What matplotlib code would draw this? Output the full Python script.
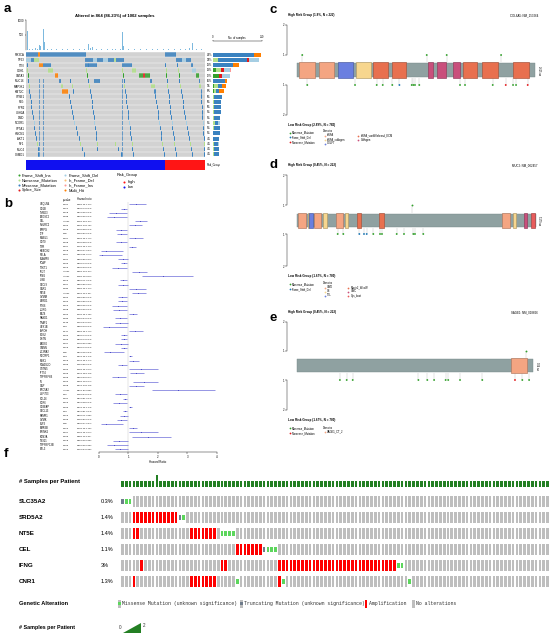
import matplotlib
matplotlib.use("Agg")
import matplotlib.pyplot as plt
import matplotlib.transforms as mtransforms
from matplotlib.patches import Polygon, Rectangle
import numpy as np

W, H = 550, 634
plt.rcParams['font.family'] = ['Liberation Sans', 'DejaVu Sans']
plt.rcParams['axes.linewidth'] = 0.3
plt.rcParams['axes.facecolor'] = 'none'

# =========================
# PANEL A DATA (oncoplot, columns = sample bins)
# =========================
N_BINS = 180
onco_title = "Altered in 864 (86.23%) of 1002 samples"
onco_genes = ["PIK3CA", "TP53", "TTN", "CDH1", "GATA3", "MUC16", "MAP3K1", "KMT2C",
              "SYNE1", "FLG", "RYR2", "USH2A", "DMD", "NCOR1", "SPTA1", "HMCN1",
              "AKT1", "NF1", "MUC4", "CSMD1"]
onco_pct = ["34%", "33%", "18%", "13%", "12%", "10%", "9%", "8%", "6%", "6%",
            "6%", "5%", "5%", "5%", "5%", "5%", "4%", "4%", "4%", "4%"]
vc_codes = ["FSI", "NON", "MIS", "SS", "FSD", "IFD", "IFI", "MH"]
vc_labels = ["Frame_Shift_Ins", "Nonsense_Mutation", "Missense_Mutation", "Splice_Site",
             "Frame_Shift_Del", "In_Frame_Del", "In_Frame_Ins", "Multi_Hit"]
vc_colors = ["#33A02C", "#B2DF8A", "#3A82C0", "#E31A1C", "#A6CEE3", "#FDBF6F", "#FB9A99", "#FF7F00"]

onco_blocks = {
    "PIK3CA": [(0, 12, "MIS"), (12, 2, "MH"), (14, 46, "MIS"), (140, 11, "MIS")],
    "TP53": [(0, 5, "FSD"), (5, 3, "MIS"), (8, 5, "NON"), (59, 8, "MIS"), (67, 4, "FSD"),
             (71, 6, "MIS"), (77, 5, "FSD"), (82, 6, "MIS"), (88, 3, "NON"), (91, 8, "MIS"),
             (151, 6, "MIS"), (157, 4, "FSD"), (161, 5, "MIS")],
    "TTN": [(13, 4, "MH"), (17, 8, "MIS"), (59, 12, "MIS"), (97, 10, "MIS"), (166, 2, "MIS")],
    "CDH1": [(22, 5, "NON"), (107, 4, "NON"), (167, 4, "FSD")],
    "GATA3": [(29, 3, "MH"), (114, 4, "FSI"), (118, 2, "SS"), (120, 5, "FSI"), (171, 3, "FSI")],
    "MUC16": [(33, 2, "MIS"), (68, 6, "MIS"), (125, 2, "MIS"), (174, 1, "MIS")],
    "MAP3K1": [(35, 2, "NON"), (126, 4, "NON"), (174, 2, "NON")],
    "KMT2C": [(36, 6, "MH"), (129, 2, "MIS"), (176, 1, "MIS")],
}
onco_scatter = {
    "TTN": [1, 62, 140, 152],
    "CDH1": [1, 60, 97, 141, 153],
    "GATA3": [2, 61, 98, 141, 154],
    "MUC16": [2, 44, 62, 72, 99, 142, 154],
    "MAP3K1": [3, 46, 63, 73, 99, 142, 155],
    "KMT2C": [3, 47, 64, 74, 100, 143, 156],
    "SYNE1": [4, 43, 65, 75, 101, 130, 144, 157, 176],
    "FLG": [5, 44, 66, 76, 101, 131, 144, 158, 176],
    "RYR2": [5, 45, 66, 77, 102, 132, 145, 158, 177],
    "USH2A": [6, 46, 67, 79, 103, 133, 145, 159, 177],
    "DMD": [7, 47, 68, 80, 103, 133, 146, 160, 177],
    "NCOR1": [8, 48, 68, 82, 104, 134, 147, 161, 178],
    "SPTA1": [8, 50, 69, 84, 105, 135, 147, 162, 178],
    "HMCN1": [9, 51, 70, 86, 105, 136, 148, 163, 178],
    "AKT1": [10, 53, 70, 88, 106, 136, 149, 164, 179],
    "NF1": [11, 54, 71, 90, 107, 137, 149, 165, 179],
    "MUC4": [12, 56, 71, 93, 107, 138, 150, 166, 179],
    "CSMD1": [12, 58, 72, 96, 108, 139, 151, 167, 179],
}
onco_scatter_type = {"CDH1": "NON", "GATA3": "FSI", "MAP3K1": "NON", "NCOR1": "FSD", "NF1": "NON"}
hyper_bins = [13, 17, 97]
hyper_genes = onco_genes[5:]

onco_counts = {
    "PIK3CA": {"MIS": 295, "MH": 46},
    "TP53": {"NON": 35, "MIS": 210, "SS": 15, "FSD": 71},
    "TTN": {"MIS": 140, "MH": 45},
    "CDH1": {"FSI": 20, "NON": 38, "SS": 22, "FSD": 38, "IFI": 12},
    "GATA3": {"FSI": 45, "SS": 18, "FSD": 57},
    "MUC16": {"MIS": 85, "MH": 15},
    "MAP3K1": {"FSI": 10, "NON": 25, "MIS": 30, "MH": 25},
    "KMT2C": {"FSI": 10, "NON": 10, "MIS": 25, "MH": 35},
    "SYNE1": {"MIS": 55, "NON": 6}, "FLG": {"MIS": 50, "NON": 8},
    "RYR2": {"MIS": 52, "NON": 4}, "USH2A": {"MIS": 50, "NON": 4},
    "DMD": {"MIS": 46, "NON": 6}, "NCOR1": {"MIS": 25, "NON": 12, "FSD": 13},
    "SPTA1": {"MIS": 45, "NON": 4}, "HMCN1": {"MIS": 44, "NON": 3},
    "AKT1": {"MIS": 45}, "NF1": {"MIS": 25, "NON": 10, "FSD": 9},
    "MUC4": {"MIS": 38, "NON": 4}, "CSMD1": {"MIS": 36, "NON": 5},
}

tmb_bins = [1, 3, 6, 9, 11, 13, 14, 17, 18, 21, 25, 30, 36, 41, 47, 53, 58, 62, 64, 66,
            70, 75, 81, 86, 90, 95, 97, 98, 103, 109, 115, 121, 127, 132, 138, 143, 149,
            155, 160, 164, 167, 171, 176]
tmb_vals = [640, 40, 25, 60, 35, 160, 120, 700, 260, 50, 30, 45, 20, 35, 25, 40, 30, 200,
            60, 90, 30, 25, 40, 20, 35, 50, 610, 120, 40, 25, 30, 45, 20, 35, 30, 25, 40,
            30, 45, 60, 220, 30, 25]

risk_groups = ["low", "high"]
risk_n = [780, 222]
risk_colors = {"low": "#1010F0", "high": "#FF1515"}

# =========================
# PANEL B DATA (forest plot)
# =========================
forest_genes = ["UBQLN4", "CD1B", "TMED3", "EXOSC2", "CEL", "NHLRC2", "SIRPG", "LTF", "MMEL1",
                "CD70", "TNR", "KRBOX2", "RELA", "SLAMF8", "TCAP", "TEKT1", "IFI27", "IFNG",
                "LY6E", "CXCL9", "CNR1", "NT5E", "GZMM", "SZRD1", "PTK6", "IL2RG", "SEZ6",
                "RASD1", "TRAF1", "UPK1B", "APOH", "EDN2", "DSTN", "FADS6", "GMNN",
                "IL13RA2", "NCCRP1", "MSX1", "PLA2G2D", "GSTM5", "IFT74", "TNFRSF6B", "F5",
                "CNP", "SRD5A2", "ZNF703", "CCL16", "CCR6", "CD3EAP", "CXCL13", "PAMR1",
                "GZMK", "ELF3", "SMR3B", "SPINK5", "SCN3A", "TBX21", "TNFRSF13B", "BCL3"]
forest_p = ["0.001", "0.014", "0.018", "0.038", "<0.001", "0.010", "0.019", "0.05", "0.007",
            "0.008", "0.007", "0.018", "0.007", "0.001", "0.003", "0.013", "<0.001", "<0.001",
            "0.013", "0.007", "0.030", "<0.001", "0.005", "0.002", "0.012", "0.008", "0.002",
            "0.033", "0.046", "0.06", "0.047", "0.002", "0.003", "0.007", "0.016",
            "0.05", "0.03", "0.016", "0.006", "0.002", "0.006", "0.009", "0.002",
            "0.008", "<0.001", "0.01", "0.001", "0.013", "0.023", "0.06", "0.013",
            "0.006", "0.05", "0.012", "0.007", "0.006", "0.018", "0.003", "0.013"]
forest_hr = [1.26, 0.84, 0.57, 0.50, 1.41, 1.22, 0.74, 0.75, 1.22, 0.74, 1.13, 0.24, 0.09,
             0.81, 0.84, 0.64, 1.35, 2.16, 0.82, 0.81, 1.26, 1.33, 0.78, 0.79, 0.65, 0.68,
             1.14, 0.71, 0.73, 0.35, 1.22, 0.84, 0.84, 0.74, 0.84, 0.37, 1.07, 1.17,
             0.79, 1.42, 1.27, 0.63, 1.52, 1.27, 2.67, 0.71, 0.87, 0.67, 1.07, 0.87, 0.84,
             0.75, 0.24, 1.14, 1.43, 1.66, 0.69, 0.51, 0.73]
forest_lo = [1.01, 0.74, 0.35, 0.26, 1.22, 1.03, 0.58, 0.60, 1.01, 0.58, 1.01, 0.07, 0.01,
             0.66, 0.74, 0.43, 1.12, 1.45, 0.71, 0.66, 1.01, 1.11, 0.65, 0.66, 0.45, 0.49,
             1.01, 0.54, 0.54, 0.13, 1.01, 0.74, 0.74, 0.56, 0.74, 0.16, 1.01, 1.01,
             0.66, 1.01, 1.05, 0.43, 1.15, 1.03, 1.80, 0.54, 0.81, 0.48, 1.01, 0.81, 0.71,
             0.60, 0.07, 1.01, 1.01, 1.11, 0.49, 0.26, 0.54]
forest_hi = [1.59, 0.94, 0.94, 0.94, 1.62, 1.45, 0.94, 0.94, 1.49, 0.94, 1.26, 0.81, 0.77,
             0.99, 0.94, 0.94, 1.62, 3.21, 0.94, 0.99, 1.59, 1.59, 0.94, 0.94, 0.94, 0.94,
             1.28, 0.94, 0.99, 0.94, 1.49, 0.94, 0.94, 0.98, 0.94, 0.84, 1.13, 1.37,
             0.94, 2.00, 1.53, 0.92, 2.01, 1.53, 3.95, 0.94, 0.94, 0.94, 1.13, 0.94, 0.98,
             0.94, 0.81, 1.28, 2.02, 2.45, 0.98, 0.98, 0.98]

# =========================
# PANELS C-E DATA (lollipops)
# =========================
mut_colors = {"MIS": "#33A02C", "FSD": "#1F78B4", "NON": "#E31A1C"}
mut_names = {"MIS": "Missense_Mutation", "FSD": "Frame_Shift_Del", "NON": "Nonsense_Mutation"}

c_gene = "COL6A5: NM_153264"
c_len = 2615
c_hi_title = "High Risk Group (1.8%, N = 222)"
c_lo_title = "Low Risk Group (2.89%, N = 780)"
c_dom_start = [29, 248, 457, 651, 841, 1043, 1444, 1536, 1712, 1822, 2030, 2370]
c_dom_end = [201, 409, 614, 815, 1005, 1199, 1499, 1635, 1792, 1975, 2212, 2552]
c_dom_type = ["vWFA", "vWFA", "COLFI", "vWFA_collagen", "vWFA_vonWillebrand_ECM",
              "vWFA_vonWillebrand_ECM", "Collagen", "Collagen", "Collagen",
              "vWFA_vonWillebrand_ECM", "vWFA_vonWillebrand_ECM", "vWFA_vonWillebrand_ECM"]
c_dom_colors = {"vWFA": "#F4A582", "vWFA_collagen": "#F7D68E", "COLFI": "#6A7FE0",
                "vWFA_vonWillebrand_ECM": "#E8704F", "Collagen": "#C94F7C"}
c_hi_pos = [61, 1427, 1646, 2243]
c_hi_cnt = [1, 1, 1, 1]
c_hi_type = ["MIS", "MIS", "MIS", "MIS"]
c_lo_pos = [116, 640, 878, 944, 1049, 1127, 1262, 1280, 1298, 1345, 1792, 1847, 2151, 2294,
            2374, 2407, 2535]
c_lo_cnt = [1] * 17
c_lo_type = ["MIS", "MIS", "MIS", "MIS", "MIS", "FSD", "MIS", "MIS", "MIS", "MIS", "MIS",
             "MIS", "MIS", "NON", "MIS", "MIS", "NON"]
c_legend_muts = ["MIS", "FSD", "NON"]

d_gene = "MUC2: NM_002457"
d_len = 5179
d_hi_title = "High Risk Group (0.45%, N = 222)"
d_lo_title = "Low Risk Group (1.67%, N = 780)"
d_dom_start = [35, 238, 273, 381, 576, 852, 1047, 1300, 1790, 4455, 4681, 4925, 5071]
d_dom_end = [202, 273, 347, 527, 650, 1010, 1118, 1393, 1892, 4622, 4752, 4984, 5164]
d_dom_type = ["VWD", "C8", "TIL", "VWD", "C8", "VWD", "C8", "Mucin2_WxxW", "Mucin2_WxxW",
              "VWD", "C8", "VWC", "Cys_knot"]
d_dom_colors = {"VWD": "#F4A582", "C8": "#F7D68E", "TIL": "#6A7FE0",
                "Mucin2_WxxW": "#E8704F", "VWC": "#C94F7C", "Cys_knot": "#E85B5B"}
d_hi_pos = [2492]
d_hi_cnt = [1]
d_hi_type = ["MIS"]
d_lo_pos = [888, 1010, 1357, 1458, 1517, 1660, 1805, 1848, 2167, 2325, 2527, 2563, 2743]
d_lo_cnt = [1] * 13
d_lo_type = ["MIS", "MIS", "FSD", "FSD", "FSD", "MIS", "MIS", "MIS", "MIS", "MIS", "MIS",
             "MIS", "MIS"]
d_legend_muts = ["MIS", "FSD"]

e_gene = "SAGE1: NM_018666"
e_len = 904
e_hi_title = "High Risk Group (0.45%, N = 222)"
e_lo_title = "Low Risk Group (1.67%, N = 780)"
e_dom_start = [818]
e_dom_end = [881]
e_dom_type = ["SAGE1_CT_2"]
e_dom_colors = {"SAGE1_CT_2": "#F4A582"}
e_hi_pos = [876]
e_hi_cnt = [1]
e_hi_type = ["MIS"]
e_lo_pos = [165, 191, 214, 465, 499, 525, 569, 579, 624, 709, 834, 862, 888]
e_lo_cnt = [1] * 13
e_lo_type = ["MIS"] * 10 + ["NON", "MIS", "MIS"]
e_legend_muts = ["MIS", "NON"]

# =========================
# PANEL F DATA (cBioPortal oncoprint, columns = patients)
# =========================
f_ncols = 112
f_samples_per_patient = [1, 1, 1, 1, 1, 1, 1, 1, 1, 2] + [1] * 102
f_genes = ["SLC35A2", "SRD5A2", "NT5E", "CEL", "IFNG", "CNR1"]
f_pct = ["0.3%", "1.4%", "1.4%", "1.1%", "3%", "1.3%"]
f_amp = [[], list(range(3, 15)), [3, 4] + list(range(18, 25)), list(range(30, 37)),
         [5, 26, 27] + list(range(41, 72)), [3] + list(range(18, 25)) + [41]]
f_missense = [[1, 2], [16], [26, 27, 28, 29], [38, 39, 40], [72, 73], [30, 42, 75]]
f_trunc = [[0], [15], [], [37], [], []]

# =========================
# FIGURE
# =========================
fig = plt.figure(figsize=(W / 100, H / 100), dpi=100)


def px_axes(x0, y0, x1, y1):
    return fig.add_axes([x0 / W, 1 - y1 / H, (x1 - x0) / W, (y1 - y0) / H])


ax_txt = px_axes(0, 0, W, H)
ax_txt.set_xlim(0, W)
ax_txt.set_ylim(H, 0)
ax_txt.axis("off")

for letter, (lx, ly) in zip("abcdef", [(4, 9), (4, 204), (269, 10), (269, 165), (269, 318), (4, 454)]):
    ax_txt.text(lx, ly, letter, fontsize=9.5, fontweight="bold", va="center", ha="left")


def clean(ax):
    for sp in ax.spines.values():
        sp.set_visible(False)
    ax.set_xticks([])
    ax.set_yticks([])


# ---- a: TMB bar ----
ax = px_axes(26, 20, 205, 50)
ax.bar(tmb_bins, tmb_vals, width=1.0, align="edge", color="#7DB9DE")
ax.set_xlim(0, N_BINS)
ax.set_ylim(0, 1000)
clean(ax)
ax.spines["left"].set_visible(True)
ax.set_yticks([500, 1000])
ax.tick_params(labelsize=2, length=1, width=0.3, pad=0.5)
ax_txt.text(115, 16, onco_title, fontsize=3.1, fontweight="bold", ha="center", va="center")

# ---- a: matrix ----
ax_m = px_axes(26, 52, 205, 157)
vc_col = dict(zip(vc_codes, vc_colors))
for r, g in enumerate(onco_genes):
    ax_m.broken_barh([(0, N_BINS)], (r - 0.5, 1), facecolors="#D2D2D2")
    for start, n, code in onco_blocks.get(g, []):
        ax_m.broken_barh([(b, 1) for b in range(start, start + n)], (r - 0.42, 0.84),
                         facecolors=vc_col[code], edgecolors="#D2D2D2", linewidth=0.08)
    code = onco_scatter_type.get(g, "MIS")
    if g in onco_scatter:
        ax_m.broken_barh([(b, 0.9) for b in onco_scatter[g]], (r - 0.42, 0.84),
                         facecolors=vc_col[code])
    if g in hyper_genes:
        ax_m.broken_barh([(b, 0.7) for b in hyper_bins], (r - 0.42, 0.84),
                         facecolors=vc_col["MIS"], alpha=0.7)
ax_m.hlines(np.arange(-0.5, 20.5), 0, N_BINS, color="white", lw=0.3)
ax_m.set_xlim(0, N_BINS)
ax_m.set_ylim(19.5, -0.5)
clean(ax_m)
ax_m.set_yticks(range(len(onco_genes)))
ax_m.set_yticklabels(onco_genes, fontsize=2.0)
ax_m.tick_params(length=0, pad=1)
trans_m = mtransforms.blended_transform_factory(ax_txt.transData, ax_m.transData)
for r, p in enumerate(onco_pct):
    ax_txt.text(206.5, r, p, transform=trans_m, fontsize=1.9, va="center", ha="left")

# ---- a: right bar ----
ax_r = px_axes(213, 52, 262, 157)
left = np.zeros(len(onco_genes))
for code, colr in zip(vc_codes, vc_colors):
    vals = np.array([onco_counts[g].get(code, 0) for g in onco_genes])
    ax_r.barh(range(len(onco_genes)), vals, left=left, height=0.78, color=colr)
    left += vals
ax_r.set_ylim(19.5, -0.5)
ax_r.set_xlim(0, 350)
for sp in ["left", "right", "bottom"]:
    ax_r.spines[sp].set_visible(False)
ax_r.spines["top"].set_position(("outward", 8))
ax_r.xaxis.tick_top()
ax_r.set_xticks([0, 350])
ax_r.set_yticks([])
ax_r.tick_params(labelsize=1.9, length=1, width=0.3, pad=0.5)
ax_txt.text(237, 37.5, "No. of samples", fontsize=1.9, ha="center", va="center")

# ---- a: risk bar ----
ax_k = px_axes(26, 160, 205, 170)
start = 0
for grp, n in zip(risk_groups, risk_n):
    ax_k.broken_barh([(start, n)], (0, 1), facecolors=risk_colors[grp])
    start += n
ax_k.set_xlim(0, sum(risk_n))
ax_k.set_ylim(0, 1)
clean(ax_k)
ax_txt.text(207, 165, "Risk_Group", fontsize=1.9, va="center")

# ---- a: legend ----
for i, (lab, colr) in enumerate(zip(vc_labels, vc_colors)):
    cx = 18.5 if i < 4 else 65
    cy = 175 + 5 * (i % 4)
    ax_txt.scatter([cx], [cy], s=2.2, color=colr, linewidths=0)
    ax_txt.text(cx + 3.2, cy, lab, fontsize=2.9, va="center")
ax_txt.text(116.5, 175, "Risk_Group", fontsize=2.9, va="center")
for i, grp in enumerate(["high", "low"]):
    ax_txt.scatter([124], [181.5 + 5.3 * i], s=2.2, color=risk_colors[grp], linewidths=0)
    ax_txt.text(127.5, 181.5 + 5.3 * i, grp, fontsize=2.9, va="center")

# ---- b: forest ----
n_f = len(forest_genes)
ax_b = px_axes(99, 202, 216.7, 452.3)
step = (449.3 - 204.3) / (n_f - 1)
ax_b.set_ylim((n_f - 1) + 3.0 / step, -2.3 / step)
ax_b.set_xlim(0, 4)
hr = np.array(forest_hr)
lo = np.array(forest_lo)
hi = np.array(forest_hi)
yy = np.arange(n_f)
ax_b.axvline(1, color="#C4C4C4", lw=0.3, zorder=0)
ax_b.errorbar(hr, yy, xerr=[hr - lo, hi - hr], fmt="s", ms=0.6, color="#4646C6",
              ecolor="#5C5CD4", elinewidth=0.45, capsize=0.6, capthick=0.35, mew=0)
for sp in ["left", "right", "top"]:
    ax_b.spines[sp].set_visible(False)
ax_b.set_yticks([])
ax_b.set_xticks([0, 1, 2, 3, 4])
ax_b.tick_params(labelsize=2.1, length=1.2, width=0.3, pad=0.6)
ax_b.set_xlabel("Hazard Ratio", fontsize=2.1, labelpad=0.8)
trans_b = mtransforms.blended_transform_factory(ax_txt.transData, ax_b.transData)
ax_txt.text(62.5, 199.5, "p.value", fontsize=1.9, va="center")
ax_txt.text(77, 199.5, "Hazard ratio", fontsize=1.9, va="center")
for i in range(n_f):
    ax_txt.text(40, i, forest_genes[i], transform=trans_b, fontsize=1.85, va="center")
    ax_txt.text(62.5, i, forest_p[i], transform=trans_b, fontsize=1.75, va="center")
    ax_txt.text(77, i, f"{forest_hr[i]:.2f}({forest_lo[i]:.2f}-{forest_hi[i]:.2f})",
                transform=trans_b, fontsize=1.6, va="center")


# ---- c-e: lollipops ----
def count_axis(ax, low, inverted):
    for sp in ["top", "right", "bottom"]:
        ax.spines[sp].set_visible(False)
    ax.spines["left"].set_bounds(1, 2)
    ax.set_xticks([])
    ax.set_yticks([1, 2])
    ax.tick_params(labelsize=2.0, length=1.2, width=0.3, pad=0.5)


def darker(hexcol, f=0.72):
    rgb = matplotlib.colors.to_rgb(hexcol)
    return tuple(c * f for c in rgb)


def lollipop(length, bar_x0, bar_x1, ys, dom_start, dom_end, dom_type, dom_colors,
             hi_pos, hi_cnt, hi_type, lo_pos, lo_cnt, lo_type,
             gene, hi_title, lo_title, legend_muts, leg_ys, dom_leg_x2):
    top2, top1, btop, bbot, bot1, bot2 = ys
    k = (bar_x1 - bar_x0) / length
    ax_x0, ax_x1 = 286.5, 541.0
    xl = ((ax_x0 - bar_x0) / k, (ax_x1 - bar_x0) / k)

    ax_h = px_axes(ax_x0, top2, ax_x1, btop)
    low_h = 1 - (btop - top1) / (top1 - top2)
    ax_h.set_xlim(*xl)
    ax_h.set_ylim(low_h, 2)
    ax_h.vlines(hi_pos, low_h, hi_cnt, color="#C8C8C8", lw=0.35)
    ax_h.scatter(hi_pos, hi_cnt, s=1.8, c=[mut_colors[t] for t in hi_type], linewidths=0,
                 zorder=3, clip_on=False)
    count_axis(ax_h, low_h, False)

    ax_l = px_axes(ax_x0, bbot, ax_x1, bot2)
    low_l = 1 - (bot1 - bbot) / (bot2 - bot1)
    ax_l.set_xlim(*xl)
    ax_l.set_ylim(2, low_l)
    ax_l.vlines(lo_pos, low_l, lo_cnt, color="#C8C8C8", lw=0.35)
    ax_l.scatter(lo_pos, lo_cnt, s=1.8, c=[mut_colors[t] for t in lo_type], linewidths=0,
                 zorder=3, clip_on=False)
    count_axis(ax_l, low_l, True)

    ax_p = px_axes(ax_x0, btop, ax_x1, bbot)
    ax_p.set_xlim(*xl)
    ax_p.set_ylim(-0.5, 0.5)
    ax_p.broken_barh([(0, length)], (-0.4, 0.8), facecolors="#8FA1A1",
                     edgecolors="#768888", linewidth=0.3)
    for s0, s1, t in zip(dom_start, dom_end, dom_type):
        ax_p.broken_barh([(s0, s1 - s0)], (-0.5, 1.0), facecolors=dom_colors[t],
                         edgecolors=[darker(dom_colors[t])], linewidth=0.45)
    clean(ax_p)
    ax_txt.text(bar_x1 + 3.5, (btop + bbot) / 2, f"{length} aa", fontsize=1.8,
                rotation=270, ha="center", va="center")

    ax_txt.text(288, top2 - 10, hi_title, fontsize=2.2, fontweight="bold", va="center")
    ax_txt.text(538, top2 - 10, gene, fontsize=2.1, va="center", ha="right")
    ly = bot2 + 10
    ax_txt.text(288, ly, lo_title, fontsize=2.2, fontweight="bold", va="center")
    for i, t in enumerate(legend_muts):
        yv = ly + leg_ys[0] + 4.8 * i
        ax_txt.scatter([289.5], [yv], s=1.6, color=mut_colors[t], linewidths=0)
        ax_txt.text(292, yv, mut_names[t], fontsize=1.9, va="center")
    ax_txt.text(323, ly + leg_ys[1], "Domains", fontsize=1.9, va="center")
    names = list(dom_colors.keys())
    for i, nm in enumerate(names):
        col_x = 324.5 if i < 3 else dom_leg_x2
        yv = ly + leg_ys[1] + 4.0 * (i % 3 + 1)
        ax_txt.scatter([col_x], [yv], s=1.6, color=dom_colors[nm], linewidths=0)
        ax_txt.text(col_x + 2.5, yv, nm, fontsize=1.9, va="center")


lollipop(c_len, 296.7, 535.0, (25, 55, 61.7, 78.3, 85, 115), c_dom_start, c_dom_end,
         c_dom_type, c_dom_colors, c_hi_pos, c_hi_cnt, c_hi_type, c_lo_pos, c_lo_cnt,
         c_lo_type, c_gene, c_hi_title, c_lo_title, c_legend_muts, (7.5, 6.5), 358)
lollipop(d_len, 296.7, 535.7, (175, 205, 212.7, 228.3, 234, 266), d_dom_start, d_dom_end,
         d_dom_type, d_dom_colors, d_hi_pos, d_hi_cnt, d_hi_type, d_lo_pos, d_lo_cnt,
         d_lo_type, d_gene, d_hi_title, d_lo_title, d_legend_muts, (8.3, 7.5), 348)
lollipop(e_len, 296.7, 533.3, (322, 351, 357.7, 373.3, 380, 410), e_dom_start, e_dom_end,
         e_dom_type, e_dom_colors, e_hi_pos, e_hi_cnt, e_hi_type, e_lo_pos, e_lo_cnt,
         e_lo_type, e_gene, e_hi_title, e_lo_title, e_legend_muts, (8.3, 7.7), 348)

# ---- f: samples per patient ----
ax_s = px_axes(120.5, 470, 549.5, 487)
ax_s.bar(range(f_ncols), f_samples_per_patient, width=0.7, color="#237F23")
ax_s.set_xlim(-0.5, f_ncols - 0.5)
ax_s.set_ylim(0, 17 / 6)
clean(ax_s)
ax_txt.text(19, 481.5, "# Samples per Patient", fontsize=4.2, fontweight="bold", va="center")

# ---- f: gene tracks ----
ax_g = px_axes(120.5, 493.5, 549.5, 589.5)
cell = 0.69
for r in range(len(f_genes)):
    altered = set(f_amp[r]) | set(f_missense[r]) | set(f_trunc[r])
    none_cols = [c for c in range(f_ncols) if c not in altered]
    ax_g.bar(none_cols, cell, bottom=r - cell / 2, width=0.7, color="#BEBEBE")
    ax_g.bar(f_amp[r], cell, bottom=r - cell / 2, width=0.7, color="#FF0000")
    ax_g.bar(f_missense[r], 0.29, bottom=r - 0.145, width=0.7, color="#5CD65C")
    ax_g.bar(f_trunc[r], 0.29, bottom=r - 0.145, width=0.7, color="#6E7B8B")
ax_g.set_xlim(-0.5, f_ncols - 0.5)
ax_g.set_ylim(len(f_genes) - 0.5, -0.5)
clean(ax_g)
trans_g = mtransforms.blended_transform_factory(ax_txt.transData, ax_g.transData)
for r, (g, p) in enumerate(zip(f_genes, f_pct)):
    ax_txt.text(19, r, g, transform=trans_g, fontsize=4.5, fontweight="bold", va="center")
    ax_txt.text(101, r, p, transform=trans_g, fontsize=4.0, va="center")

# ---- f: legends ----
ax_txt.text(19, 603.5, "Genetic Alteration", fontsize=4.1, fontweight="bold", va="center")
leg_items = [("Missense Mutation (unknown significance)", "#5CD65C", True, 119.3),
             ("Truncating Mutation (unknown significance)", "#6E7B8B", True, 241.4),
             ("Amplification", "#FF0000", False, 366.0),
             ("No alterations", "#BEBEBE", False, 413.3)]
for lab, colr, small, lx in leg_items:
    if small:
        ax_txt.add_patch(Rectangle((lx - 1.35, 600.2), 2.7, 7.3, color="#BEBEBE", lw=0))
        ax_txt.add_patch(Rectangle((lx - 1.35, 602.4), 2.7, 2.9, color=colr, lw=0))
    else:
        ax_txt.add_patch(Rectangle((lx - 1.35, 600.2), 2.7, 7.3, color=colr, lw=0))
    ax_txt.text(lx + 3.0, 603.8, lab, fontsize=3.5, family=["Liberation Mono", "DejaVu Sans Mono"],
                va="center", color="#333333")

ax_txt.text(19, 628, "# Samples per Patient", fontsize=3.9, fontweight="bold", va="center")
ax_txt.text(118.5, 627.5, "0", fontsize=3.3, va="center", color="#333333")
ax_txt.add_patch(Polygon([(122.5, 633.2), (140.5, 633.2), (140.5, 623.3)], closed=True,
                         color="#237F23", lw=0))
ax_txt.text(142.5, 625.5, "2", fontsize=3.3, va="center", color="#333333")

fig.savefig("out.png", dpi=100)
